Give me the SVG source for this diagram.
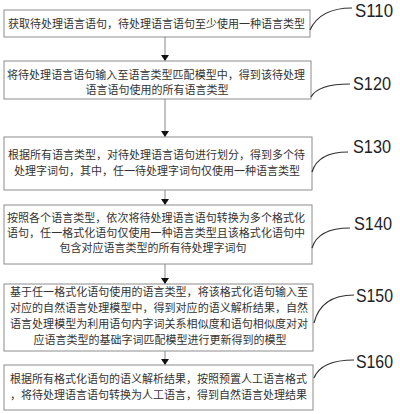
<svg xmlns="http://www.w3.org/2000/svg" width="400" height="414" viewBox="0 0 400 414">
<defs>
<style>
.box{fill:#ffffff;stroke:#8c8c8c;stroke-width:1}
.t{font-family:"Noto Sans CJK SC","Noto Sans",sans-serif;font-size:11px;fill:#333333}
.c{text-anchor:middle}
.lab{font-family:"Liberation Sans","DejaVu Sans",sans-serif;font-size:18px;fill:#222222}
.conn{stroke:#888888;stroke-width:1;fill:none}
.lead{stroke:#333333;stroke-width:1.2;fill:none}
</style>
<marker id="ah" viewBox="0 0 6 8" refX="6" refY="4" markerWidth="6" markerHeight="8" markerUnits="userSpaceOnUse" orient="auto">
<path d="M0,0 L6,4 L0,8 Z" fill="#111111"/>
</marker>
</defs>
<rect width="400" height="414" fill="#ffffff"/>
<g id="connectors">
<line class="conn" x1="165" y1="37" x2="165" y2="61" marker-end="url(#ah)"/>
<line class="conn" x1="165" y1="99" x2="165" y2="137" marker-end="url(#ah)"/>
<line class="conn" x1="165" y1="190" x2="165" y2="205" marker-end="url(#ah)"/>
<line class="conn" x1="165" y1="264" x2="165" y2="284" marker-end="url(#ah)"/>
<line class="conn" x1="165" y1="351" x2="165" y2="365" marker-end="url(#ah)"/>
</g>
<g id="S110">
<rect class="box" x="4" y="10" width="306" height="27"/>
<text class="t" x="8" y="28" textLength="297" lengthAdjust="spacing">获取待处理语言语句，待处理语言语句至少使用一种语言类型</text>
<path class="lead" d="M310 30 Q320 8 352 8"/>
<text class="lab" x="355" y="17" textLength="38" lengthAdjust="spacingAndGlyphs">S110</text>
</g>
<g id="S120">
<rect class="box" x="4" y="61" width="307" height="38"/>
<text class="t" x="7" y="79" textLength="298" lengthAdjust="spacing">将待处理语言语句输入至语言类型匹配模型中，得到该待处理</text>
<text class="t c" x="157" y="94">语言语句使用的所有语言类型</text>
<path class="lead" d="M311 97 Q318 84 350 84"/>
<text class="lab" x="353" y="90" textLength="38" lengthAdjust="spacingAndGlyphs">S120</text>
</g>
<g id="S130">
<rect class="box" x="4" y="137" width="308" height="53"/>
<text class="t" x="8" y="159" textLength="297" lengthAdjust="spacing">根据所有语言类型，对待处理语言语句进行划分，得到多个待</text>
<text class="t c" x="157" y="175">处理字词句，其中，任一待处理字词句仅使用一种语言类型</text>
<path class="lead" d="M312 172 Q318 152 348 152"/>
<text class="lab" x="353" y="153" textLength="38" lengthAdjust="spacingAndGlyphs">S130</text>
</g>
<g id="S140">
<rect class="box" x="4" y="205" width="308" height="59"/>
<text class="t" x="7" y="222" textLength="298" lengthAdjust="spacing">按照各个语言类型，依次将待处理语言语句转换为多个格式化</text>
<text class="t" x="7" y="237" textLength="298" lengthAdjust="spacing">语句，任一格式化语句仅使用一种语言类型且该格式化语句中</text>
<text class="t c" x="153" y="252">包含对应语言类型的所有待处理字词句</text>
<path class="lead" d="M312 248 Q318 228 350 228"/>
<text class="lab" x="354" y="230" textLength="38" lengthAdjust="spacingAndGlyphs">S140</text>
</g>
<g id="S150">
<rect class="box" x="4" y="284" width="309" height="67"/>
<text class="t" x="10" y="296" textLength="298" lengthAdjust="spacing">基于任一格式化语句使用的语言类型，将该格式化语句输入至</text>
<text class="t" x="10" y="312" textLength="298" lengthAdjust="spacing">对应的自然语言处理模型中，得到对应的语义解析结果，自然</text>
<text class="t" x="10" y="328" textLength="298" lengthAdjust="spacing">语言处理模型为利用语句内字词关系相似度和语句相似度对对</text>
<text class="t c" x="160" y="344">应语言类型的基础字词匹配模型进行更新得到的模型</text>
<path class="lead" d="M314 323 Q321 295 354 295"/>
<text class="lab" x="356" y="302" textLength="37" lengthAdjust="spacingAndGlyphs">S150</text>
</g>
<g id="S160">
<rect class="box" x="4" y="365" width="309" height="45"/>
<text class="t" x="10" y="383" textLength="297" lengthAdjust="spacing">根据所有格式化语句的语义解析结果，按照预置人工语言格式</text>
<text class="t" x="10" y="399" textLength="297" lengthAdjust="spacing">，将待处理语言语句转换为人工语言，得到自然语言处理结果</text>
<path class="lead" d="M314 378 Q321 360 354 360"/>
<text class="lab" x="356" y="368" textLength="37" lengthAdjust="spacingAndGlyphs">S160</text>
</g>
</svg>
